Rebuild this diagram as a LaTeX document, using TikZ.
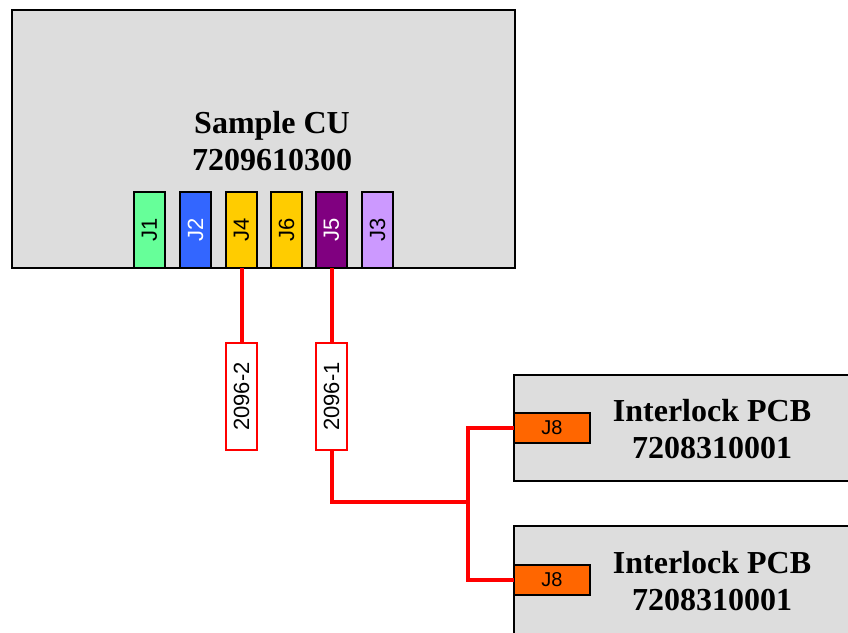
\documentclass[tikz,border=0pt]{standalone}
\usepackage{fontspec}
\setmainfont{Liberation Serif}
\setsansfont{Liberation Sans}
\definecolor{boxgray}{HTML}{DDDDDD}
\definecolor{cJone}{HTML}{66FF99}
\definecolor{cJtwo}{HTML}{3366FF}
\definecolor{cJfour}{HTML}{FFCC00}
\definecolor{cJfive}{HTML}{800080}
\definecolor{cJthree}{HTML}{CC99FF}
\definecolor{cJeight}{HTML}{FF6600}
\definecolor{cable}{HTML}{FF0000}
\begin{document}
\begin{tikzpicture}[x=1pt,y=-1pt,
  unit/.style={draw=black,line width=1.6pt,fill=boxgray,inner sep=0pt,outer sep=0pt},
  title/.style={font=\fontsize{32}{37}\selectfont\bfseries,align=center,inner sep=0pt},
  jeight/.style={draw=black,line width=1.5pt,fill=cJeight,minimum width=76pt,minimum height=30pt,inner sep=0pt,outer sep=0pt,font=\sffamily\fontsize{20}{22}\selectfont},
  tag/.style={draw=cable,line width=2pt,fill=white,minimum width=107pt,minimum height=31pt,inner sep=0pt,rotate=90,font=\sffamily\fontsize{22}{24}\selectfont},
  wire/.style={draw=cable,line width=4pt}]
\useasboundingbox (0,0) rectangle (848,632);
% main unit
\node[unit,minimum width=503pt,minimum height=258pt] (cu) at (263.5,139) {};
\node[title] (cut) at (272,141) {Sample CU\\7209610300};
% connectors
\foreach \nm/\lab/\x/\col/\tc in {j1/J1/149.5/cJone/black, j2/J2/195.5/cJtwo/white, j4/J4/241.5/cJfour/black, j6/J6/286.5/cJfour/black, j5/J5/331.5/cJfive/white, j3/J3/377.5/cJthree/black}{
  \node[draw=black,line width=1.5pt,fill=\col,text=\tc,minimum width=76pt,minimum height=31pt,inner sep=0pt,outer sep=0pt,rotate=90,font=\sffamily\fontsize{22}{24}\selectfont] (\nm) at (\x,230) {\lab};
}
% cable tags
\node[tag] (t2) at (241.5,396.5) {2096-2};
\node[tag] (t1) at (331.5,396.5) {2096-1};
% interlock boards
\begin{scope}
\clip (0,0) rectangle (848,632);
\node[unit,minimum width=360pt,minimum height=106pt] (pcb1) at (694,428) {};
\node[unit,minimum width=360pt,minimum height=120pt] (pcb2) at (694,586) {};
\end{scope}
\node[title] (p1t) at (712,429) {Interlock PCB\\7208310001};
\node[title] (p2t) at (712,581) {Interlock PCB\\7208310001};
\node[jeight] (j8a) at (552,428) {J8};
\node[jeight] (j8b) at (552,580) {J8};
% wires
\coordinate (sp) at (468,502);
\draw[wire] (j4.west) -- (t2.east);
\draw[wire] (j5.west) -- (t1.east);
\draw[wire,line join=miter] (t1.west) |- (sp);
\draw[wire,line join=miter] (j8a.west) -| (sp) |- (j8b.west);
\end{tikzpicture}
\end{document}
